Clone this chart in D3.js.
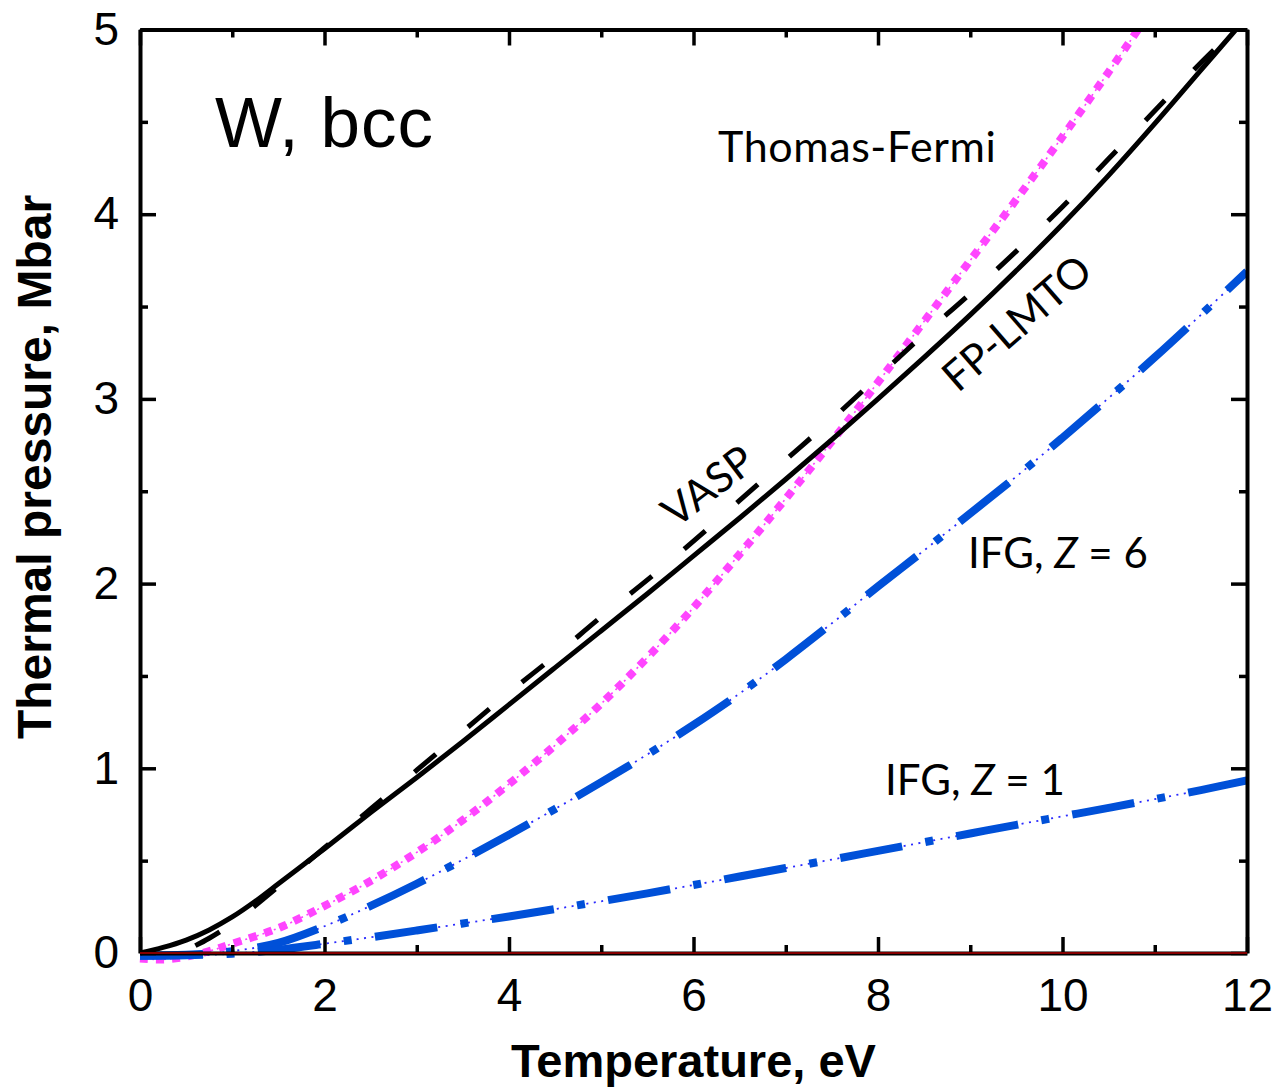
<!DOCTYPE html>
<html><head><meta charset="utf-8">
<script src="https://cdn.jsdelivr.net/npm/d3@7"></script>
<style>body{margin:0;background:#fff}</style>
</head><body>
<svg id="chart" width="1276" height="1090"></svg>
<script>
// ---- data ----
const xMajorTicks = [0,2,4,6,8,10,12];
const xMinorTicks = [1,3,5,7,9,11];
const yMajorTicks = [0,1,2,3,4,5];
const yMinorTicks = [0.5,1.5,2.5,3.5,4.5];

const tempFP = [0,0.25,0.5,0.75,1,1.25,1.5,1.75,2,2.5,3,3.5,4,4.5,5,5.5,6,6.5,7,7.5,8,8.5,9,9.5,10,10.5,11,11.5,11.88];
const presFP = [0,0.03,0.07,0.125,0.195,0.28,0.375,0.47,0.565,0.76,0.95,1.145,1.345,1.545,1.745,1.945,2.15,2.355,2.565,2.78,3.0,3.225,3.455,3.695,3.945,4.21,4.49,4.78,5.0];

const tempVASP = [0.6,0.75,1,1.5,2,2.5,3,3.5,4,4.5,5,5.5,6,6.5,7,7.5,8,8.5,9,9.5,10,10.5,11,11.5,11.87];
const presVASP = [0.04,0.08,0.16,0.36,0.57,0.78,0.99,1.20,1.41,1.61,1.82,2.02,2.23,2.45,2.67,2.89,3.12,3.35,3.57,3.80,4.04,4.30,4.56,4.82,5.0];

const tempTF = [0,0.25,0.5,0.75,1,1.5,2,2.5,3,3.5,4,4.5,5,5.5,6,6.5,7,7.5,8,8.5,9,9.5,10,10.5,10.82];
const presTF = [-0.03,-0.035,-0.02,0.01,0.05,0.135,0.255,0.39,0.545,0.72,0.915,1.125,1.35,1.60,1.87,2.16,2.46,2.77,3.09,3.42,3.75,4.08,4.42,4.77,5.0];

const tempZ6 = [0,0.5,1,1.5,2,2.5,3,3.5,4,4.5,5,5.5,6,6.5,7,7.5,8,8.5,9,9.5,10,10.5,11,11.5,12];
const presZ6 = [-0.015,-0.01,0.01,0.055,0.145,0.255,0.375,0.505,0.64,0.78,0.925,1.075,1.235,1.405,1.59,1.785,1.985,2.18,2.38,2.58,2.79,3.005,3.225,3.455,3.69];

const tempZ1 = [0,0.5,1,1.5,2,2.5,3,3.5,4,4.5,5,5.5,6,6.5,7,7.5,8,8.5,9,9.5,10,10.5,11,11.5,12];
const presZ1 = [-0.015,-0.012,-0.004,0.018,0.05,0.085,0.122,0.16,0.198,0.238,0.28,0.323,0.368,0.414,0.46,0.506,0.553,0.60,0.647,0.694,0.74,0.786,0.833,0.882,0.935];

// ---- layout ----
const svg = d3.select("#chart");
const L = 140, R = 1247, T = 29.5, B = 953;
const x = d3.scaleLinear().domain([0,12]).range([L,R]);
const y = d3.scaleLinear().domain([0,5]).range([B,T]);

const font = "'Liberation Sans', Arial, sans-serif";
const lblFont = "Lato, 'Open Sans', sans-serif";

svg.append("defs").append("clipPath").attr("id","clip")
  .append("rect").attr("x",L-8).attr("y",T).attr("width",R-L+8).attr("height",B-T+14);

const zip = (a,b) => a.map((v,i)=>[v,b[i]]);
const line = d3.line().x(d=>x(d[0])).y(d=>y(d[1])).curve(d3.curveCatmullRom.alpha(0.5));

const g = svg.append("g").attr("clip-path","url(#clip)");

// Thomas-Fermi (magenta dotted)
g.append("path").attr("d", line(zip(tempTF,presTF))).attr("fill","none")
  .attr("stroke","#ff40ff").attr("stroke-width",1.6).attr("stroke-dasharray","2,4");
g.append("path").attr("d", line(zip(tempTF,presTF))).attr("fill","none")
  .attr("stroke","#ff45ff").attr("stroke-width",8).attr("stroke-dasharray","8,8");

// IFG curves (blue dash-dot with thin dots)
[[tempZ6,presZ6],[tempZ1,presZ1]].forEach(([t,p])=>{
  g.append("path").attr("d", line(zip(t,p))).attr("fill","none")
    .attr("stroke","#2b2bff").attr("stroke-width",1.8).attr("stroke-dasharray","2,5.5");
  g.append("path").attr("d", line(zip(t,p))).attr("fill","none")
    .attr("stroke","#0050d8").attr("stroke-width",8).attr("stroke-dasharray","63,23.5,8,23.5");
});

// VASP (black dashed)
g.append("path").attr("d", line(zip(tempVASP,presVASP))).attr("fill","none")
  .attr("stroke","#000").attr("stroke-width",5).attr("stroke-dasharray","28,42");

// FP-LMTO (black solid)
g.append("path").attr("d", line(zip(tempFP,presFP))).attr("fill","none")
  .attr("stroke","#000").attr("stroke-width",5);

// ---- axes ----
function styleAxis(sel){
  sel.select(".domain").attr("stroke","#000").attr("stroke-width",4);
  sel.selectAll(".tick line").attr("stroke","#000").attr("stroke-width",3.5);
  sel.selectAll("text").attr("font-family",font).attr("font-size",46).attr("fill","#000");
}
// bottom
svg.append("g").attr("transform",`translate(0,${B})`)
  .call(d3.axisBottom(x).tickValues(xMajorTicks).tickSizeInner(-16).tickSizeOuter(0).tickPadding(25).tickFormat(d3.format("d")))
  .call(styleAxis);
svg.append("g").attr("transform",`translate(0,${B})`)
  .call(d3.axisBottom(x).tickValues(xMinorTicks).tickSizeInner(-8).tickSizeOuter(0).tickFormat(""))
  .call(styleAxis).select(".domain").remove();
// top
svg.append("g").attr("transform",`translate(0,${T})`)
  .call(d3.axisTop(x).tickValues(xMajorTicks).tickSizeInner(-16).tickSizeOuter(0).tickFormat(""))
  .call(styleAxis);
svg.append("g").attr("transform",`translate(0,${T})`)
  .call(d3.axisTop(x).tickValues(xMinorTicks).tickSizeInner(-8).tickSizeOuter(0).tickFormat(""))
  .call(styleAxis).select(".domain").remove();
// left
svg.append("g").attr("transform",`translate(${L},0)`)
  .call(d3.axisLeft(y).tickValues(yMajorTicks).tickSizeInner(-16).tickSizeOuter(0).tickPadding(21).tickFormat(d3.format("d")))
  .call(styleAxis);
svg.append("g").attr("transform",`translate(${L},0)`)
  .call(d3.axisLeft(y).tickValues(yMinorTicks).tickSizeInner(-8).tickSizeOuter(0).tickFormat(""))
  .call(styleAxis).select(".domain").remove();
// right
svg.append("g").attr("transform",`translate(${R},0)`)
  .call(d3.axisRight(y).tickValues(yMajorTicks).tickSizeInner(-16).tickSizeOuter(0).tickFormat(""))
  .call(styleAxis);
svg.append("g").attr("transform",`translate(${R},0)`)
  .call(d3.axisRight(y).tickValues(yMinorTicks).tickSizeInner(-8).tickSizeOuter(0).tickFormat(""))
  .call(styleAxis).select(".domain").remove();

// zero line (dark red)
svg.append("line").attr("x1",x(0)).attr("x2",x(12)).attr("y1",y(0)).attr("y2",y(0))
  .attr("stroke","#b00000").attr("stroke-width",1.5);

// ---- titles ----
svg.append("text").attr("x",(L+R)/2).attr("y",1077).attr("text-anchor","middle")
  .attr("font-family",font).attr("font-weight","bold").attr("font-size",47).text("Temperature, eV");
svg.append("text").attr("transform","translate(51,467) rotate(-90)").attr("text-anchor","middle")
  .attr("font-family",font).attr("font-weight","bold").attr("font-size",48).text("Thermal pressure, Mbar");

svg.append("text").attr("x",215).attr("y",147).attr("font-family",font).attr("font-size",71)
  .attr("letter-spacing",1).text("W, bcc");

// ---- curve labels ----
svg.append("text").attr("x",718).attr("y",162).attr("font-family",lblFont).attr("font-size",43)
  .attr("letter-spacing",0.6).text("Thomas-Fermi");
svg.append("text").attr("transform","translate(707,485) rotate(-37)").attr("text-anchor","middle")
  .attr("dominant-baseline","central").attr("font-family",lblFont).attr("font-size",42).text("VASP");
svg.append("text").attr("transform","translate(1016,322) rotate(-41)").attr("text-anchor","middle")
  .attr("dominant-baseline","central").attr("font-family",lblFont).attr("font-size",42).text("FP-LMTO");

function ifgLabel(px,py,z){
  const t = svg.append("text").attr("x",px).attr("y",py).attr("font-family",lblFont).attr("font-size",42);
  t.append("tspan").text("IFG, ");
  t.append("tspan").attr("font-style","italic").text("Z");
  t.append("tspan").text(" = " + z);
}
ifgLabel(968,568,"6");
ifgLabel(885,795,"1");
</script>
</body></html>
